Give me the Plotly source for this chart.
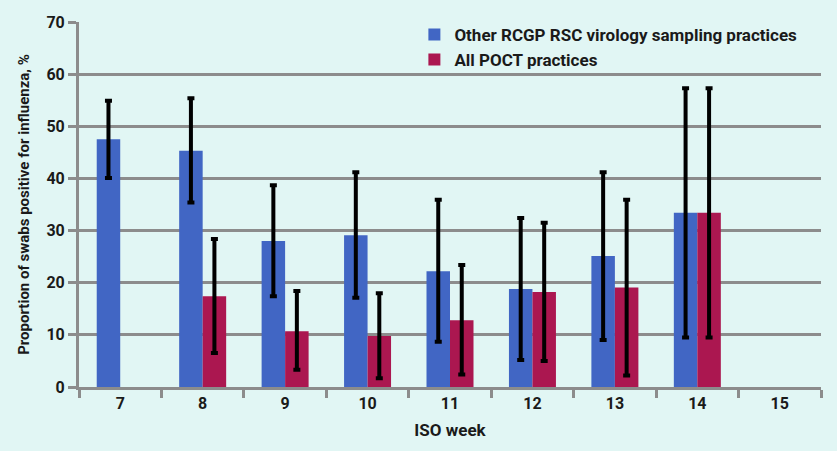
import plotly.graph_objects as go

weeks = ["7", "8", "9", "10", "11", "12", "13", "14", "15"]
other_vals = [47.5, 45.3, 28.0, 29.1, 22.2, 18.8, 25.1, 33.4, None]
other_upper = [54.9, 55.4, 38.7, 41.2, 35.9, 32.4, 41.2, 57.3, None]
other_lower = [40.1, 35.4, 17.4, 17.1, 8.7, 5.2, 9.0, 9.5, None]
poct_vals = [None, 17.4, 10.7, 9.8, 12.8, 18.2, 19.1, 33.4, None]
poct_upper = [None, 28.4, 18.4, 18.0, 23.4, 31.5, 35.9, 57.3, None]
poct_lower = [None, 6.5, 3.3, 1.7, 2.4, 5.0, 2.2, 9.5, None]
y_ticks = [0, 10, 20, 30, 40, 50, 60, 70]


def err(vals, up, lo):
    plus = [None if v is None else u - v for v, u in zip(vals, up)]
    minus = [None if v is None else v - l for v, l in zip(vals, lo)]
    return plus, minus


op, om = err(other_vals, other_upper, other_lower)
pp, pm = err(poct_vals, poct_upper, poct_lower)

eb = dict(type="data", symmetric=False, color="black", thickness=4, width=3.5)
bg = "#E1F6F4"

fig = go.Figure()
fig.add_trace(go.Bar(
    x=weeks, y=other_vals, name="Other RCGP RSC virology sampling practices",
    marker=dict(color="#4166C4", line=dict(width=0)),
    error_y=dict(array=op, arrayminus=om, **eb),
))
fig.add_trace(go.Bar(
    x=weeks, y=poct_vals, name="All POCT practices",
    marker=dict(color="#AB1750", line=dict(width=0)),
    error_y=dict(array=pp, arrayminus=pm, **eb),
))

font_family = "Roboto, 'DejaVu Sans', sans-serif"
fig.update_layout(
    width=837, height=451,
    paper_bgcolor=bg, plot_bgcolor=bg,
    margin=dict(l=79, r=16, t=22, b=64, autoexpand=False),
    barmode="group", bargap=0.43, bargroupgap=0,
    font=dict(family=font_family, size=16, color="#1a1a1a", weight="bold"),
    legend=dict(x=0.452, y=1.014, xanchor="left", yanchor="top",
                bgcolor="rgba(0,0,0,0)", font=dict(size=17, weight="bold"),
                itemwidth=30, tracegroupgap=0),
    xaxis=dict(
        title=dict(text="ISO week", font=dict(size=17, weight="bold"), standoff=12),
        type="category", categoryorder="array", categoryarray=weeks,
        tickson="boundaries", ticks="outside", ticklen=8, tickwidth=3, tickcolor="#8C8C8C",
        showline=True, linecolor="#8C8C8C", linewidth=3,
        showgrid=False, tickfont=dict(size=16, weight="bold"),
    ),
    yaxis=dict(
        title=dict(text="Proportion of swabs positive for influenza, %",
                   font=dict(size=15, weight="bold"), standoff=14),
        range=[0, 70], tickvals=y_ticks, ticks="outside", ticklen=8, tickwidth=3,
        tickcolor="#8C8C8C", showline=True, linecolor="#8C8C8C", linewidth=3,
        showgrid=True, gridcolor="#8C8C8C", gridwidth=3, zeroline=False,
        tickfont=dict(size=16, weight="bold"),
    ),
)

fig.write_html(
    "out.html",
    config={"displayModeBar": False},
    post_script="document.body.style.margin='0';document.body.style.background='%s';" % bg,
)
